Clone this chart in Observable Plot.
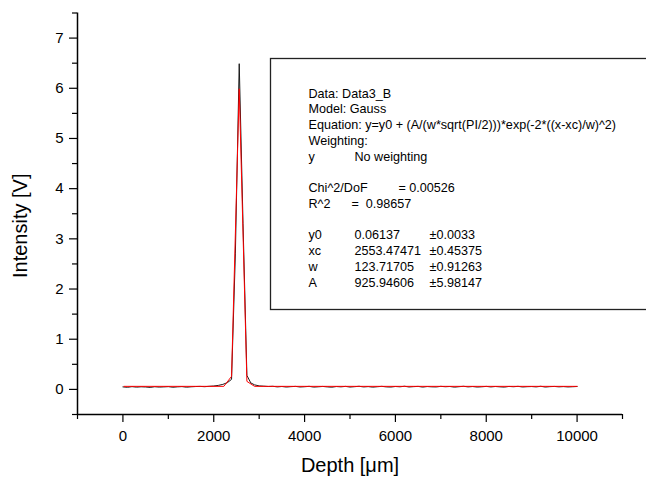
<!DOCTYPE html>
<html><head><meta charset="utf-8">
<script src="https://cdn.jsdelivr.net/npm/d3@7"></script>
<script src="https://cdn.jsdelivr.net/npm/@observablehq/plot@0.6"></script>
<style>
html,body{margin:0;padding:0;background:#fff;overflow:hidden}
#chart svg{display:block}
</style>
</head><body><div id="chart"></div>
<script>
// measured data (black)
const depth = [0,100,200,300,400,500,600,700,800,900,1000,1100,1200,1300,1400,1500,1600,1700,1800,1900,2000,2100,2200,2300,
  2392,2476,2561,2645,2730,2815,2900,
  3000,3100,3200,3300,3400,3500,3600,3700,3800,3900,4000,4100,4200,4300,4400,4500,4600,4700,4800,4900,5000,5100,5200,5300,5400,5500,5600,5700,5800,5900,6000,6100,6200,6300,6400,6500,6600,6700,6800,6900,7000,7100,7200,7300,7400,7500,7600,7700,7800,7900,8000,8100,8200,8300,8400,8500,8600,8700,8800,8900,9000,9100,9200,9300,9400,9500,9600,9700,9800,9900,10000];
const intensity = [0.050,0.042,0.055,0.045,0.052,0.048,0.040,0.053,0.046,0.050,0.055,0.043,0.051,0.056,0.044,0.052,0.057,0.060,0.054,0.062,0.068,0.080,0.100,0.135,
  0.20,2.70,6.49,3.30,0.28,0.13,0.09,
  0.070,0.065,0.058,0.062,0.050,0.058,0.047,0.055,0.060,0.048,0.053,0.061,0.046,0.052,0.059,0.050,0.044,0.057,0.051,0.060,0.047,0.054,0.062,0.049,0.056,0.045,0.053,0.061,0.050,0.047,0.058,0.052,0.063,0.048,0.055,0.060,0.046,0.057,0.051,0.049,0.061,0.053,0.058,0.045,0.054,0.062,0.050,0.057,0.047,0.052,0.060,0.049,0.058,0.051,0.046,0.059,0.053,0.061,0.048,0.054,0.057,0.050,0.062,0.047,0.055,0.059,0.051,0.056,0.049,0.053,0.058];
// Gauss fit (red)
const fitDepth = [25,2222,2392,2561,2730,2899,10000];
const fitIntensity = [0.061,0.061,0.26,5.99,0.16,0.061,0.061];

const xDomain = [-1000, 11000];
const yDomain = [-0.5, 7.5];
const xMajorTicks = [0,2000,4000,6000,8000,10000];
const xMinorTicks = [-1000,1000,3000,5000,7000,9000,11000];
const yMajorTicks = [0,1,2,3,4,5,6,7];
const yMinorTicks = [-0.5,0.5,1.5,2.5,3.5,4.5,5.5,6.5,7.5];
const xLabel = "Depth [μm]";
const yLabel = "Intensity [V]";

// fit report text
const reportLines = ["Data: Data3_B","Model: Gauss","Equation: y=y0 + (A/(w*sqrt(PI/2)))*exp(-2*((x-xc)/w)^2)","Weighting:","y","","Chi^2/DoF","R^2","","y0","xc","w","A"];
const weightingText = "No weighting";
const chiText = "= 0.00526";
const r2Text = "=  0.98657";
const paramValues = ["0.06137","2553.47471","123.71705","925.94606"];
const paramErrors = ["±0.0033","±0.45375","±0.91263","±5.98147"];

const data = depth.map((d,i)=>({x:d, y:intensity[i]}));
const fit = fitDepth.map((d,i)=>({x:d, y:fitIntensity[i]}));

const font = "'Liberation Sans', Arial, Helvetica, sans-serif";
const fs = 12.6;
const lh = 15.75 / fs;
const pad = n => "\n".repeat(n);
const txt = {frameAnchor:"top-left", textAnchor:"start", lineAnchor:"top", fontSize:fs, lineHeight:lh, fill:"#000"};
const topOff = 73.5;
const fmt = d => String(d);

const chart = Plot.plot({
  width: 646, height: 477,
  marginLeft: 77, marginRight: 24, marginTop: 12.5, marginBottom: 63,
  x: {domain: xDomain},
  y: {domain: yDomain},
  style: {fontFamily: font, fontSize: "15px", color: "#000", background: "#fff"},
  marks: [
    Plot.frame({insetLeft:193, insetTop:45.5, insetBottom:105, insetRight:-40, stroke:"#222", strokeWidth:1.3}),
    Plot.text([reportLines.join("\n")], {...txt, dx:231, dy:topOff}),
    Plot.text([pad(4)+weightingText], {...txt, dx:277, dy:topOff}),
    Plot.text([pad(6)+chiText], {...txt, dx:321, dy:topOff}),
    Plot.text([pad(7)+r2Text], {...txt, dx:274, dy:topOff}),
    Plot.text([pad(9)+paramValues.join("\n")], {...txt, dx:277, dy:topOff}),
    Plot.text([pad(9)+paramErrors.join("\n")], {...txt, dx:352, dy:topOff}),
    Plot.line(data, {x:"x", y:"y", stroke:"#1a1a1a", strokeWidth:1}),
    Plot.line(fit, {x:"x", y:"y", stroke:"#ff0000", strokeWidth:1}),
    Plot.ruleX([xDomain[0]], {stroke:"#000", strokeWidth:1.5}),
    Plot.ruleY([yDomain[0]], {stroke:"#000", strokeWidth:1.5}),
    Plot.axisX(xMajorTicks, {tickSize:8, tickPadding:8, fontSize:15, tickFormat:fmt, label:null, stroke:"#000", strokeWidth:1.2}),
    Plot.axisX(xMinorTicks, {tickSize:5, tickFormat:()=>"", label:null, stroke:"#000", strokeWidth:1.2}),
    Plot.axisY(yMajorTicks, {tickSize:8, tickPadding:6, fontSize:15, tickFormat:fmt, label:null, stroke:"#000", strokeWidth:1.2}),
    Plot.axisY(yMinorTicks, {tickSize:5, tickFormat:()=>"", label:null, stroke:"#000", strokeWidth:1.2}),
    Plot.text([xLabel], {frameAnchor:"bottom", textAnchor:"middle", dy:51, lineAnchor:"middle", fontSize:20, fill:"#000"}),
    Plot.text([yLabel], {frameAnchor:"left", textAnchor:"middle", dx:-57, dy:12, rotate:-90, lineAnchor:"middle", fontSize:20, fill:"#000"})
  ]
});
document.getElementById("chart").append(chart);
</script>
</body></html>
